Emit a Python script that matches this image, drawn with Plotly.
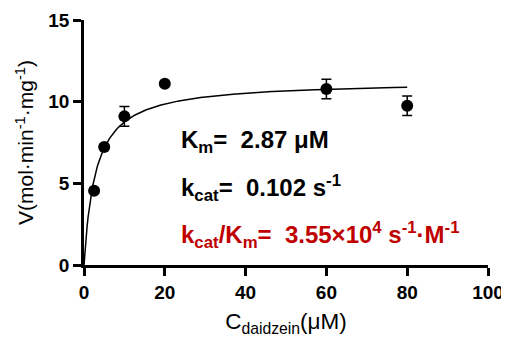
import plotly.graph_objects as go
import numpy as np

# Data
conc = [2.5, 5, 10, 20, 60, 80]
rate = [4.55, 7.22, 9.1, 11.1, 10.78, 9.75]
rate_err = [0.15, 0.15, 0.6, 0.15, 0.6, 0.6]

# Michaelis-Menten fit parameters
Km = 2.87
Vmax = 11.27
fit_x = np.linspace(0, 80, 400)
fit_y = Vmax * fit_x / (Km + fit_x)

x_ticks = [0, 20, 40, 60, 80, 100]
y_ticks = [0, 5, 10, 15]

FONT = "Arial, Liberation Sans, sans-serif"

fig = go.Figure()
fig.add_trace(go.Scatter(x=fit_x, y=fit_y, mode="lines",
                         line=dict(color="black", width=1.5), showlegend=False, hoverinfo="skip"))
fig.add_trace(go.Scatter(x=conc, y=rate, mode="markers",
                         marker=dict(color="black", size=12),
                         error_y=dict(type="data", array=rate_err, color="black", thickness=1.5, width=5),
                         showlegend=False))

# page body has an 8px margin, so the figure is slightly smaller
fig.update_layout(
    width=501, height=334,
    margin=dict(l=76, r=21, t=12, b=77),
    plot_bgcolor="white", paper_bgcolor="white",
    font=dict(family=FONT, color="black"),
    xaxis=dict(range=[0, 100], tickvals=x_ticks, showgrid=False, zeroline=False, automargin=False,
               showline=True, linecolor="black", linewidth=2.5, ticklabeloverflow="allow",
               ticks="outside", ticklen=8, tickwidth=2.5, tickcolor="black",
               tickfont=dict(size=19, weight="bold", family=FONT),
               title=dict(text="C<sub>daidzein</sub>(μM)", font=dict(size=22.5, family=FONT), standoff=12)),
    yaxis=dict(range=[0, 15], tickvals=y_ticks, showgrid=False, zeroline=False, automargin=False,
               showline=True, linecolor="black", linewidth=2.5, ticklabeloverflow="allow",
               ticks="outside", ticklen=8, tickwidth=2.5, tickcolor="black",
               tickfont=dict(size=19, weight="bold", family=FONT),
               title=dict(text="V(mol·min<sup>-1</sup>·mg<sup>-1</sup>)", font=dict(size=21, family=FONT), standoff=9)),
)

ann_font = dict(size=24, family=FONT, color="black", weight="bold")
fig.add_annotation(x=23.5, y=7.58, xref="x", yref="y", xanchor="left", yanchor="middle",
                   text="K<sub>m</sub>=  2.87 μM", showarrow=False, font=ann_font)
fig.add_annotation(x=23.5, y=4.72, xref="x", yref="y", xanchor="left", yanchor="middle",
                   text="k<sub>cat</sub>=  0.102 s<sup>-1</sup>", showarrow=False, font=ann_font)
fig.add_annotation(x=23.5, y=1.82, xref="x", yref="y", xanchor="left", yanchor="middle",
                   text="k<sub>cat</sub>/K<sub>m</sub>=  3.55×10<sup>4</sup> s<sup>-1</sup>·M<sup>-1</sup>",
                   showarrow=False, font=dict(size=24, family=FONT, color="#C00000", weight="bold"))

fig.write_html("out.html")
